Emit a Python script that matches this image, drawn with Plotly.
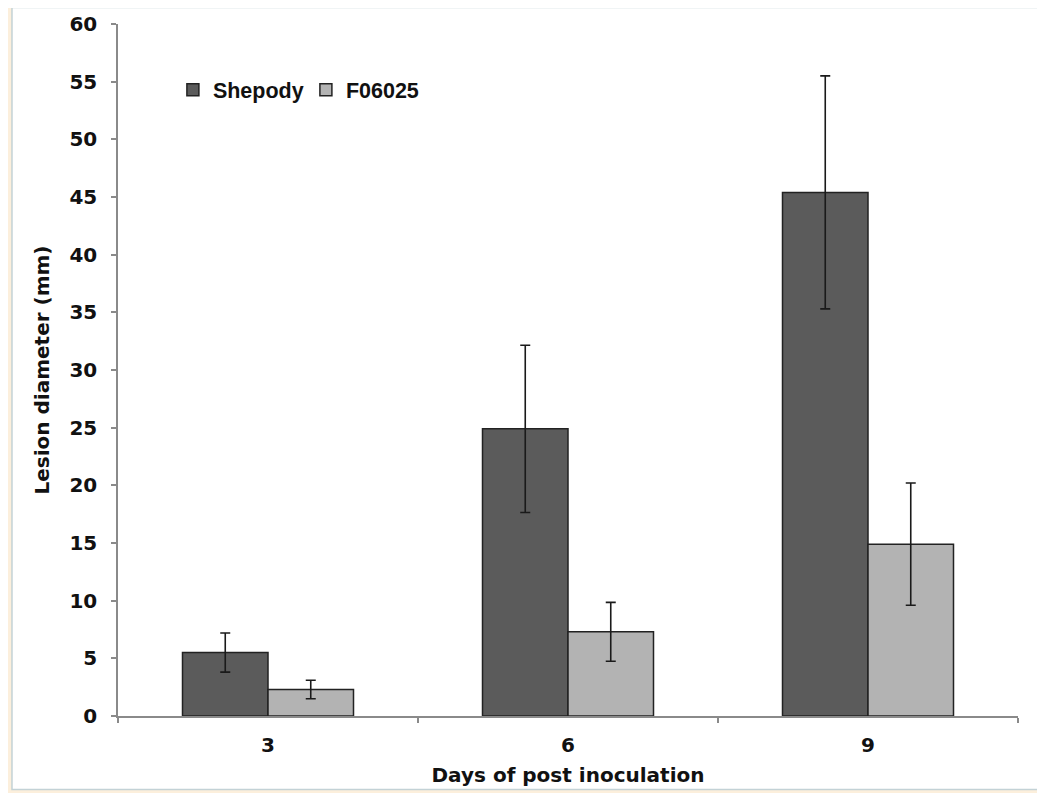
import plotly.graph_objects as go

days = ["3", "6", "9"]
shepody = [5.5, 24.9, 45.4]
shepody_err = [1.7, 7.25, 10.1]
f06025 = [2.3, 7.3, 14.9]
f06025_err = [0.8, 2.55, 5.3]
y_ticks = [0, 5, 10, 15, 20, 25, 30, 35, 40, 45, 50, 55, 60]

tick_font = dict(family="DejaVu Sans", size=20, color="#111111", weight="bold")
title_font = dict(family="DejaVu Sans", size=20, color="#111111", weight="bold")

fig = go.Figure()
fig.add_trace(go.Bar(
    name="Shepody", x=days, y=shepody,
    marker=dict(color="#5b5b5b", line=dict(color="#222222", width=1.5)),
    error_y=dict(type="data", array=shepody_err, visible=True,
                 color="#1a1a1a", thickness=1.6, width=5),
))
fig.add_trace(go.Bar(
    name="F06025", x=days, y=f06025,
    marker=dict(color="#b3b3b3", line=dict(color="#222222", width=1.5)),
    error_y=dict(type="data", array=f06025_err, visible=True,
                 color="#1a1a1a", thickness=1.6, width=5),
))

fig.update_layout(
    width=1037, height=785,
    margin=dict(l=110, r=27, t=16, b=77),
    paper_bgcolor="#fcefdc",
    plot_bgcolor="rgba(0,0,0,0)",
    barmode="group",
    bargap=0.43,
    bargroupgap=0,
    showlegend=True,
    legend=dict(
        orientation="h", x=0.061, y=0.905, xanchor="left", yanchor="middle",
        bgcolor="rgba(0,0,0,0)",
        font=dict(family="Liberation Sans", size=21.5, color="#111111", weight="bold"),
        entrywidth=88, tracegroupgap=0,
    ),
    shapes=[dict(
        type="rect", xref="paper", yref="paper",
        x0=-0.1178, x1=1.0278, y0=-0.1062, y1=1.0238,
        fillcolor="white", line=dict(color="#c3d2d6", width=1.5),
        layer="below",
    )],
)

fig.update_xaxes(
    type="category", automargin=False,
    showline=True, linecolor="#8a8a8a", linewidth=1.5,
    ticks="outside", tickson="boundaries", ticklen=5, tickcolor="#8a8a8a",
    tickwidth=1.5,
    tickfont=tick_font, ticklabelstandoff=10,
    showgrid=False, zeroline=False,
    title=dict(text="Days of post inoculation", font=title_font, standoff=12),
)
fig.update_yaxes(
    range=[0, 60], tickvals=y_ticks, automargin=False,
    showline=True, linecolor="#8a8a8a", linewidth=1.5,
    ticks="outside", ticklen=5, tickcolor="#8a8a8a", tickwidth=1.5,
    tickfont=tick_font, ticklabelstandoff=10,
    showgrid=False, zeroline=False,
    title=dict(text="Lesion diameter (mm)", font=title_font, standoff=14),
)

fig.write_html("out.html")
